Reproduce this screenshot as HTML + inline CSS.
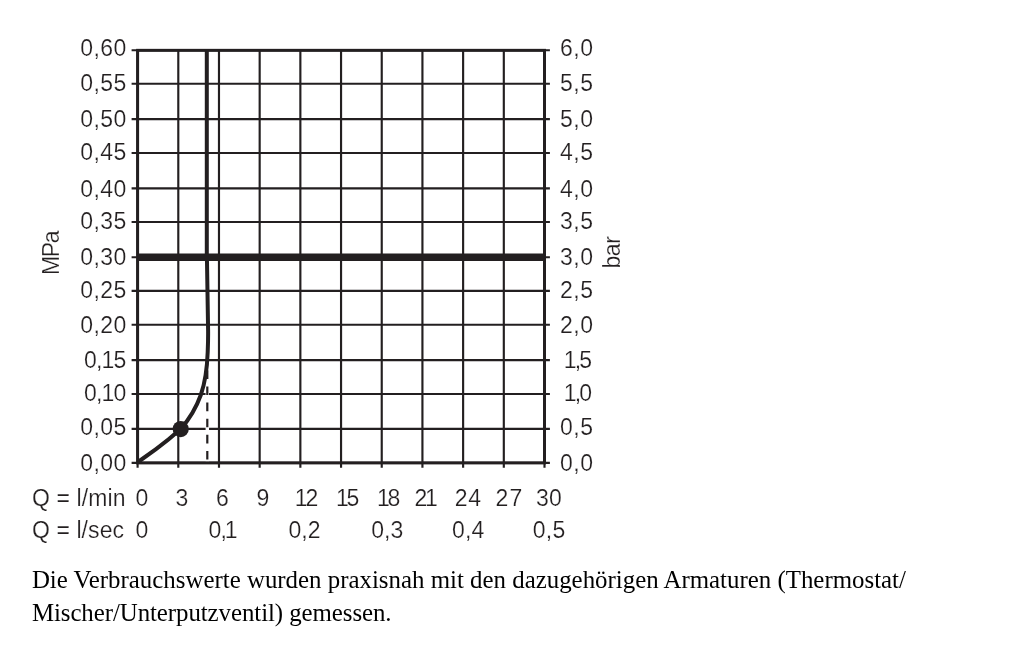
<!DOCTYPE html>
<html lang="de"><head><meta charset="utf-8"><title>Durchflussdiagramm</title>
<style>
html,body{margin:0;padding:0;background:#fff;}
body{width:1024px;height:652px;position:relative;overflow:hidden;}
svg{position:absolute;left:0;top:0;}
svg text{font-family:"Liberation Sans",sans-serif;fill:#231f20;stroke:#fff;stroke-width:0.2px;}
.p{position:absolute;left:31.9px;white-space:nowrap;font-family:"Liberation Serif",serif;font-size:24.885px;color:#000;line-height:30px;}
</style></head><body>
<svg width="1024" height="652" viewBox="0 0 1024 652">
<g stroke="#231f20" stroke-width="2.15" fill="none">
<line x1="131.6" y1="50.25" x2="549.9" y2="50.25"/>
<line x1="131.6" y1="83.75" x2="549.9" y2="83.75"/>
<line x1="131.6" y1="119.05" x2="549.9" y2="119.05"/>
<line x1="131.6" y1="153.00" x2="549.9" y2="153.00"/>
<line x1="131.6" y1="188.30" x2="549.9" y2="188.30"/>
<line x1="131.6" y1="222.00" x2="549.9" y2="222.00"/>
<line x1="131.6" y1="257.25" x2="549.9" y2="257.25"/>
<line x1="131.6" y1="290.90" x2="549.9" y2="290.90"/>
<line x1="131.6" y1="324.70" x2="549.9" y2="324.70"/>
<line x1="131.6" y1="360.10" x2="549.9" y2="360.10"/>
<line x1="131.6" y1="394.00" x2="549.9" y2="394.00"/>
<line x1="131.6" y1="428.80" x2="549.9" y2="428.80"/>
<line x1="131.6" y1="462.80" x2="549.9" y2="462.80"/>
<line x1="137.60" y1="50.2" x2="137.60" y2="467.8"/>
<line x1="178.29" y1="50.2" x2="178.29" y2="467.8"/>
<line x1="218.98" y1="50.2" x2="218.98" y2="467.8"/>
<line x1="259.67" y1="50.2" x2="259.67" y2="467.8"/>
<line x1="300.36" y1="50.2" x2="300.36" y2="467.8"/>
<line x1="341.05" y1="50.2" x2="341.05" y2="467.8"/>
<line x1="381.74" y1="50.2" x2="381.74" y2="467.8"/>
<line x1="422.43" y1="50.2" x2="422.43" y2="467.8"/>
<line x1="463.12" y1="50.2" x2="463.12" y2="467.8"/>
<line x1="503.81" y1="50.2" x2="503.81" y2="467.8"/>
<line x1="544.50" y1="50.2" x2="544.50" y2="467.8"/>
</g>
<line x1="207.3" y1="372" x2="207.3" y2="461.8" stroke="#fff" stroke-width="3.4"/>
<line x1="207.3" y1="370.4" x2="207.3" y2="459.4" stroke="#231f20" stroke-width="2.2" stroke-dasharray="8.6 7.5"/>
<rect x="137.60" y="50.35" width="406.90" height="412.55" stroke="#231f20" stroke-width="3" fill="none"/>
<line x1="137.6" y1="257.25" x2="544.5" y2="257.25" stroke="#231f20" stroke-width="7.4"/>
<path d="M138 462 L156 449.1 C164 443.3 173 436 180.7 429.1 C188.5 420 196.3 407.5 200.8 395 C204.5 384.5 207 372 207.7 352 C208 345 208.2 338 208.1 330 L207 262 L206.8 256 L206.8 49" stroke="#231f20" stroke-width="4" fill="none" stroke-linejoin="round"/>
<circle cx="180.7" cy="429.1" r="8.1" fill="#231f20"/>
<text x="80.2" y="56.2" font-size="23" textLength="46" lengthAdjust="spacing">0,60</text>
<text x="560.0" y="56.2" font-size="23" textLength="33" lengthAdjust="spacing">6,0</text>
<text x="80.2" y="90.5" font-size="23" textLength="46" lengthAdjust="spacing">0,55</text>
<text x="560.0" y="90.5" font-size="23" textLength="33" lengthAdjust="spacing">5,5</text>
<text x="80.2" y="126.9" font-size="23" textLength="46" lengthAdjust="spacing">0,50</text>
<text x="560.0" y="126.9" font-size="23" textLength="33" lengthAdjust="spacing">5,0</text>
<text x="80.2" y="159.8" font-size="23" textLength="46" lengthAdjust="spacing">0,45</text>
<text x="560.0" y="159.8" font-size="23" textLength="33" lengthAdjust="spacing">4,5</text>
<text x="80.2" y="196.6" font-size="23" textLength="46" lengthAdjust="spacing">0,40</text>
<text x="560.0" y="196.6" font-size="23" textLength="33" lengthAdjust="spacing">4,0</text>
<text x="80.2" y="229.3" font-size="23" textLength="46" lengthAdjust="spacing">0,35</text>
<text x="560.0" y="229.3" font-size="23" textLength="33" lengthAdjust="spacing">3,5</text>
<text x="80.2" y="265.0" font-size="23" textLength="46" lengthAdjust="spacing">0,30</text>
<text x="560.0" y="265.0" font-size="23" textLength="33" lengthAdjust="spacing">3,0</text>
<text x="80.2" y="297.9" font-size="23" textLength="46" lengthAdjust="spacing">0,25</text>
<text x="560.0" y="297.9" font-size="23" textLength="33" lengthAdjust="spacing">2,5</text>
<text x="80.2" y="332.5" font-size="23" textLength="46" lengthAdjust="spacing">0,20</text>
<text x="560.0" y="332.5" font-size="23" textLength="33" lengthAdjust="spacing">2,0</text>
<text x="84.0" y="368.1" font-size="23" textLength="42.2" lengthAdjust="spacing">0,15</text>
<text x="563.8" y="368.1" font-size="23" textLength="28.2" lengthAdjust="spacing">1,5</text>
<text x="84.0" y="400.9" font-size="23" textLength="42.2" lengthAdjust="spacing">0,10</text>
<text x="563.8" y="400.9" font-size="23" textLength="28.2" lengthAdjust="spacing">1,0</text>
<text x="80.2" y="435.0" font-size="23" textLength="46" lengthAdjust="spacing">0,05</text>
<text x="560.0" y="435.0" font-size="23" textLength="33" lengthAdjust="spacing">0,5</text>
<text x="80.2" y="471.0" font-size="23" textLength="46" lengthAdjust="spacing">0,00</text>
<text x="560.0" y="471.0" font-size="23" textLength="33" lengthAdjust="spacing">0,0</text>
<text x="32" y="505.6" font-size="23" textLength="93.5" lengthAdjust="spacing">Q = l/min</text>
<text x="32" y="538.1" font-size="23" textLength="92" lengthAdjust="spacing">Q = l/sec</text>
<text x="141.9" y="505.6" font-size="23" text-anchor="middle">0</text>
<text x="181.9" y="505.6" font-size="23" text-anchor="middle">3</text>
<text x="222.4" y="505.6" font-size="23" text-anchor="middle">6</text>
<text x="262.8" y="505.6" font-size="23" text-anchor="middle">9</text>
<text x="306.5" y="505.6" font-size="23" text-anchor="middle" dx="0 -2.2">12</text>
<text x="347.6" y="505.6" font-size="23" text-anchor="middle" dx="0 -2.2">15</text>
<text x="388.7" y="505.6" font-size="23" text-anchor="middle" dx="0 -2.2">18</text>
<text x="426.2" y="505.6" font-size="23" text-anchor="middle" dx="0 -2.2">21</text>
<text x="467.9" y="505.6" font-size="23" text-anchor="middle" dx="0 0.8">24</text>
<text x="508.9" y="505.6" font-size="23" text-anchor="middle" dx="0 1.0">27</text>
<text x="548.9" y="505.6" font-size="23" text-anchor="middle" dx="0 0.4">30</text>
<text x="141.9" y="538.1" font-size="23" text-anchor="middle">0</text>
<text x="223.1" y="538.1" font-size="23" text-anchor="middle" dx="0 -1.0 -2.0">0,1</text>
<text x="304.5" y="538.1" font-size="23" text-anchor="middle" dx="0 0.1 0.1">0,2</text>
<text x="387.2" y="538.1" font-size="23" text-anchor="middle">0,3</text>
<text x="468.2" y="538.1" font-size="23" text-anchor="middle" dx="0 0.2 0.2">0,4</text>
<text x="549.0" y="538.1" font-size="23" text-anchor="middle" dx="0 0.2 0.2">0,5</text>
<text transform="translate(58.6 275) rotate(-90)" font-size="23" textLength="44.5" lengthAdjust="spacing">MPa</text>
<text transform="translate(620 268.6) rotate(-90)" font-size="23" textLength="32.6" lengthAdjust="spacing">bar</text>
</svg>
<div class="p" id="p1" style="top:565.3px;">Die Verbrauchswerte wurden praxisnah mit den dazugehörigen Armaturen (Thermostat/</div>
<div class="p" id="p2" style="top:597.8px;letter-spacing:-0.07px;">Mischer/Unterputzventil) gemessen.</div>
</body></html>
